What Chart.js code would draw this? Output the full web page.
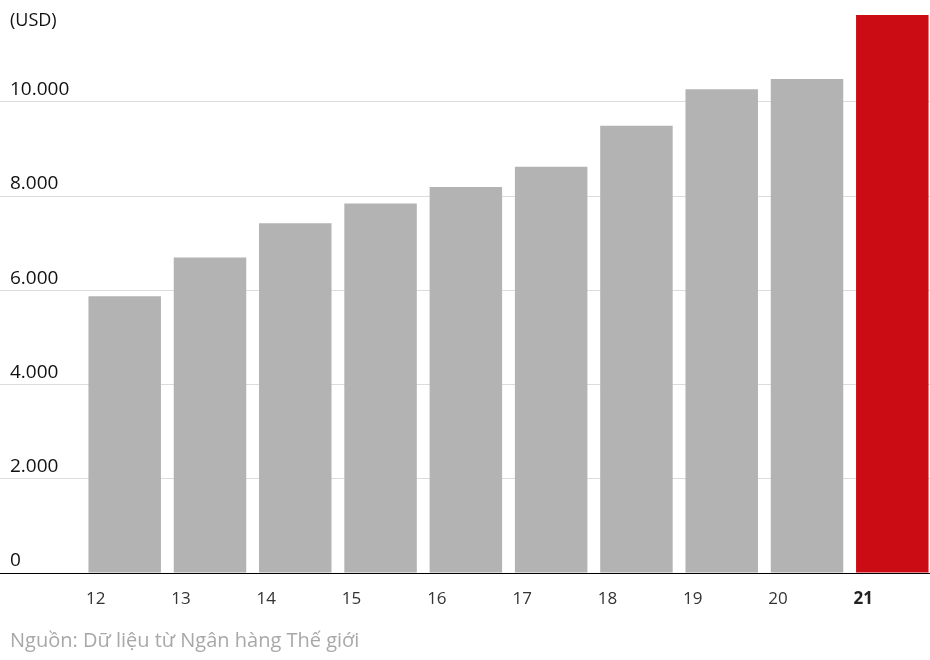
<!DOCTYPE html>
<html>
<head>
<meta charset="utf-8">
<script src="https://cdn.jsdelivr.net/npm/chart.js@4"></script>
<style>
    body { margin: 0; background: #fff; }
    #wrap { position: relative; width: 930px; height: 660px; font-family: "Open Sans", sans-serif; }
    #unit { position: absolute; left: 10px; top: 7px; font-size: 18px; color: #111; }
    #source { position: absolute; left: 10px; top: 626px; font-size: 20px; color: #a8a8a8; }
</style>
</head>
<body>
<div id="wrap">
    <canvas id="myChart"></canvas>
    <div id="unit">(USD)</div>
    <div id="source">Nguồn: Dữ liệu từ Ngân hàng Thế giới</div>
</div>
<script>
// years (x labels) and GDP per capita values
const years = ["12", "13", "14", "15", "16", "17", "18", "19", "20", "21"];
const values = [5874, 6695, 7424, 7843, 8189, 8620, 9491, 10263, 10482, 11841];
const yTicks = [0, 2000, 4000, 6000, 8000, 10000];

const grey = "#b3b3b4";
const red = "#cc0c14";

// numeric x positions so the axis can start at the left edge
const xs = years.map(y => Number(y));
const points = xs.map((x, i) => ({ x: x, y: values[i] }));
const colors = years.map((y, i) => i === years.length - 1 ? red : grey);

function formatThousands(v) {
    return v.toString().replace(/\B(?=(\d{3})+(?!\d))/g, ".");
}

var ctx = document.getElementById("myChart");

var myChart = new Chart(ctx, {
    type: "bar",
    data: {
        datasets: [{
            data: points,
            backgroundColor: colors,
            borderWidth: 0,
            categoryPercentage: 0.85,
            barPercentage: 1,
        }],
    },
    options: {
        responsive: true,
        maintainAspectRatio: false,
        animation: false,
        layout: { padding: { top: 7.5, left: 0, right: 0, bottom: 0 } },
        scales: {
            x: {
                type: "linear",
                offset: false,
                min: 10.538,
                max: 21.442,
                afterBuildTicks: function (scale) {
                    scale.ticks = xs.map(v => ({ value: v }));
                },
                afterFit: function (scale) {
                    scale.height = 87;
                    scale.paddingLeft = 0;
                    scale.paddingRight = 0;
                },
                grid: { display: false, drawTicks: false, offset: false },
                border: { display: true, color: "#000", width: 1 },
                ticks: {
                    padding: 16,
                    labelOffset: -29,
                    maxRotation: 0,
                    autoSkip: false,
                    callback: function (value) {
                        return years[xs.indexOf(value)];
                    },
                    color: function (c) {
                        return c.tick && c.tick.value === 21 ? "#222" : "#333";
                    },
                    font: function (c) {
                        const last = c.tick && c.tick.value === 21;
                        return { family: "Open Sans", size: 17, weight: last ? "bold" : "normal" };
                    },
                },
            },
            y: {
                min: 0,
                max: 12000,
                afterBuildTicks: function (scale) {
                    scale.ticks = yTicks.map(v => ({ value: v }));
                },
                afterFit: function (scale) {
                    scale.width = 0;
                    scale.paddingTop = 0;
                    scale.paddingBottom = 0;
                },
                grid: {
                    drawTicks: false,
                    color: function (c) {
                        return c.tick && c.tick.value === 0 ? "#000" : "#dcdcdc";
                    },
                    lineWidth: 1,
                },
                border: { display: false },
                ticks: {
                    mirror: true,
                    padding: 10,
                    labelOffset: -12,
                    color: "#111",
                    font: { family: "Open Sans", size: 19 },
                    callback: function (value) {
                        return formatThousands(value);
                    },
                },
            },
        },
        plugins: {
            legend: { display: false },
            tooltip: { enabled: false },
        },
    },
});
</script>
</body>
</html>
